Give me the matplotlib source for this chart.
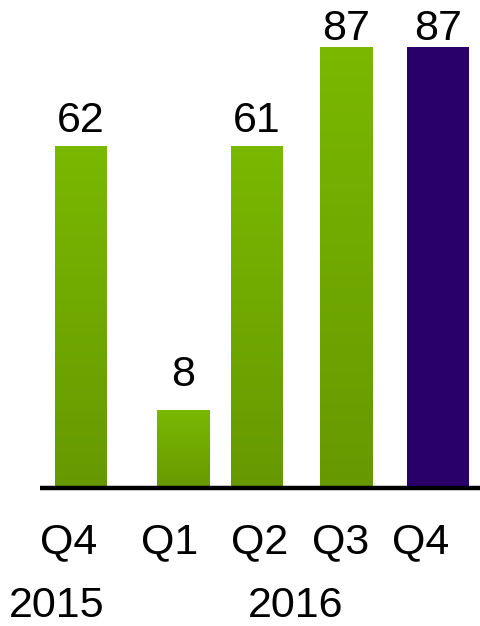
import numpy as np
import matplotlib

matplotlib.use('Agg')
import matplotlib.pyplot as plt
from matplotlib.colors import LinearSegmentedColormap

# data
quarters = ['Q4', 'Q1', 'Q2', 'Q3', 'Q4']
years = ['2015', '2016']
values = [62, 8, 61, 87, 87]
# drawn bar heights (the chart is not to scale), in the same units as values
bar_heights = [62, 14.1, 62, 80, 80]

# layout (pixel columns of the original)
bar_left = [55, 157, 231, 320, 407]
bar_width = [52, 53, 52, 53, 62]
label_gap = [14, 24, 14, 7, 7]
quarter_x = [69, 170, 260, 341, 421]
year_x = [57, 296]

green_top = '#7AB800'
green_bottom = '#669900'
purple = '#29006A'

W, H = 481, 626
base_px = 488
px_per_unit = 342 / 62.0
fs = 31

fig = plt.figure(figsize=(W / 100, H / 100), dpi=100)
ax = fig.add_axes([0, (H - base_px) / H, 1, base_px / H])
ax.set_xlim(0, W)
ax.set_ylim(0, base_px / px_per_unit)
ax.axis('off')

plt.rcParams['font.family'] = ['Liberation Sans', 'DejaVu Sans']

cmap = LinearSegmentedColormap.from_list('grn', [green_bottom, green_top])
grad = np.linspace(0, 1, 256).reshape(-1, 1)

bars = ax.bar(bar_left, bar_heights, width=bar_width, align='edge',
              color=[green_top] * 4 + [purple], linewidth=0, zorder=2)

for i, b in enumerate(bars):
    if i < 4:
        b.set_facecolor('none')
        im = ax.imshow(grad, cmap=cmap, origin='lower', aspect='auto',
                       extent=[b.get_x(), b.get_x() + b.get_width(), 0, b.get_height()],
                       zorder=2)
        im.set_clip_path(b)
    ax.annotate(str(values[i]), (b.get_x() + b.get_width() / 2, b.get_height()),
                xytext=(0, label_gap[i] * 0.72), textcoords='offset points',
                ha='center', va='baseline', fontsize=fs, annotation_clip=False)

ax.set_xlim(0, W)
ax.set_ylim(0, base_px / px_per_unit)

ax.plot([40, W], [0, 0], color='black', lw=3.2, solid_capstyle='butt', zorder=3, clip_on=False)

for x, q in zip(quarter_x, quarters):
    fig.text(x / W, 1 - 542 / H, q, ha='center', va='center', fontsize=fs)
for x, y in zip(year_x, years):
    fig.text(x / W, 1 - 606 / H, y, ha='center', va='center', fontsize=fs)

fig.savefig('out.png', dpi=100, facecolor='white')
